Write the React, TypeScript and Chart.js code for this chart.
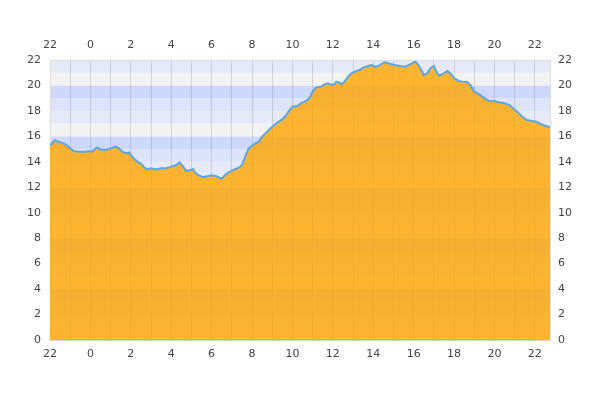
import React, { useEffect, useRef } from "react";
import { Chart, registerables } from "chart.js";

Chart.register(...registerables);

// minutes since 22:00 on the first day
const minutes = [
  0, 15, 25, 40, 50, 60, 70, 85, 105, 115, 125, 135, 140, 150, 165, 180, 195, 205, 215, 225,
  235, 240, 250, 260, 270, 280, 290, 300, 315, 330, 345, 360, 375, 385, 395, 405, 415, 425, 430, 440,
  455, 470, 480, 495, 510, 520, 530, 545, 560, 570, 580, 590, 605, 620, 630, 645, 660, 675, 690, 700,
  710, 720, 735, 745, 760, 770, 780, 790, 805, 815, 825, 835, 845, 850, 860, 865, 875, 885, 895, 905,
  920, 930, 945, 955, 965, 975, 985, 995, 1005, 1015, 1025, 1040, 1055, 1065, 1075, 1085, 1090, 1100, 1110, 1120,
  1130, 1140, 1145, 1155, 1165, 1180, 1190, 1200, 1215, 1225, 1240, 1250, 1260, 1275, 1290, 1305, 1320, 1335, 1350, 1365,
  1375, 1390, 1400, 1415, 1430, 1445, 1455, 1465, 1480, 1485,
];

const temperatures = [
  15.3, 15.7, 15.58, 15.45, 15.3, 15.06, 14.85, 14.8, 14.8, 14.85, 14.8, 15.05, 15.13, 14.97, 14.93, 15.06, 15.2, 15.06, 14.8, 14.67,
  14.72, 14.54, 14.2, 14.0, 13.88, 13.54, 13.4, 13.49, 13.4, 13.49, 13.49, 13.62, 13.75, 13.96, 13.62, 13.28, 13.33, 13.43, 13.17, 12.96,
  12.8, 12.88, 12.94, 12.86, 12.68, 12.96, 13.17, 13.36, 13.54, 13.75, 14.4, 15.06, 15.37, 15.58, 15.98, 16.37, 16.76, 17.08, 17.34, 17.62,
  18.0, 18.33, 18.39, 18.6, 18.78, 18.99, 19.51, 19.85, 19.9, 20.09, 20.17, 20.04, 20.09, 20.3, 20.22, 20.09, 20.3, 20.69, 20.95, 21.08,
  21.21, 21.4, 21.53, 21.6, 21.48, 21.53, 21.69, 21.82, 21.74, 21.66, 21.6, 21.53, 21.48, 21.6, 21.74, 21.87, 21.74, 21.35, 20.82, 20.95,
  21.35, 21.53, 21.21, 20.77, 20.88, 21.14, 20.95, 20.56, 20.35, 20.3, 20.25, 19.98, 19.51, 19.3, 18.99, 18.78, 18.78, 18.67, 18.6, 18.46,
  18.2, 17.88, 17.6, 17.29, 17.2, 17.15, 17.0, 16.89, 16.76, 16.7,
];

const startHour = 22;
const xMin = 0;
const xMax = 1485;
const hourStep = 60;
const yMin = 0;
const yMax = 22;
const yStep = 2;

const hourLabel = (v: number) => {
  if (v % 120 !== 0) return "";
  return String((startHour + v / 60) % 24);
};

const hourTicks = (scale: any) => {
  const t: { value: number }[] = [];
  for (let v = xMin; v <= xMax; v += hourStep) t.push({ value: v });
  scale.ticks = t;
};

const bandColors = ["#e6e9f7", "#f2f2f2", "#cdd8fc", "#dde3f8"];

const bandsPlugin = {
  id: "bands",
  beforeDraw(chart: any) {
    const { ctx, chartArea } = chart;
    const ys = chart.scales.y;
    ctx.save();
    for (let k = yMin; k < yMax; k++) {
      const idx = (((yMax - 1 - k) % 4) + 4) % 4;
      const top = ys.getPixelForValue(k + 1);
      const bottom = ys.getPixelForValue(k);
      ctx.fillStyle = bandColors[idx];
      ctx.fillRect(chartArea.left, top, chartArea.right - chartArea.left, bottom - top);
    }
    ctx.restore();
  },
};

const font = { family: "'DejaVu Sans', sans-serif", size: 11 };
const tickColor = "#444";

export default function App() {
  const ref = useRef<HTMLCanvasElement | null>(null);

  useEffect(() => {
    if (!ref.current) return;
    const data = minutes.map((m, i) => ({ x: m, y: temperatures[i] }));
    const chart = new Chart(ref.current, {
      type: "line",
      data: {
        datasets: [
          {
            data,
            borderColor: "#5aa6e6",
            borderWidth: 2,
            backgroundColor: "rgba(255,165,0,0.8)",
            fill: "origin",
            pointRadius: 0,
            tension: 0,
          },
        ],
      },
      plugins: [bandsPlugin],
      options: {
        animation: false,
        responsive: true,
        maintainAspectRatio: false,
        layout: { padding: 0 },
        plugins: { legend: { display: false }, tooltip: { enabled: false } },
        scales: {
          x: {
            type: "linear",
            position: "bottom",
            min: xMin,
            max: xMax,
            afterBuildTicks: hourTicks,
            afterFit: (s: any) => {
              s.height = 60;
            },
            ticks: {
              autoSkip: false,
              maxRotation: 0,
              padding: 8,
              font,
              color: tickColor,
              callback: (v: any) => hourLabel(Number(v)),
            },
            grid: { color: "rgba(0,0,0,0.12)", drawTicks: false, lineWidth: 1 },
            border: { color: "#cfd6d8" },
          },
          x2: {
            type: "linear",
            position: "top",
            min: xMin,
            max: xMax,
            afterBuildTicks: hourTicks,
            afterFit: (s: any) => {
              s.height = 60;
            },
            ticks: {
              autoSkip: false,
              maxRotation: 0,
              padding: 8,
              font,
              color: tickColor,
              callback: (v: any) => hourLabel(Number(v)),
            },
            grid: { display: false, drawTicks: false },
            border: { color: "#dddddd" },
          },
          y: {
            position: "left",
            min: yMin,
            max: yMax,
            afterFit: (s: any) => {
              s.width = 50;
            },
            ticks: { stepSize: yStep, padding: 9, font, color: tickColor },
            grid: { display: false, drawTicks: false },
            border: { color: "#dddddd" },
          },
          y2: {
            position: "right",
            min: yMin,
            max: yMax,
            afterFit: (s: any) => {
              s.width = 50;
            },
            ticks: { stepSize: yStep, padding: 8, font, color: tickColor },
            grid: { display: false, drawTicks: false },
            border: { color: "#dddddd" },
          },
        },
      },
    });
    return () => chart.destroy();
  }, []);

  return (
    <div style={{ position: "fixed", left: 0, top: 0, width: 600, height: 400, background: "#fff" }}>
      <canvas ref={ref} />
    </div>
  );
}
